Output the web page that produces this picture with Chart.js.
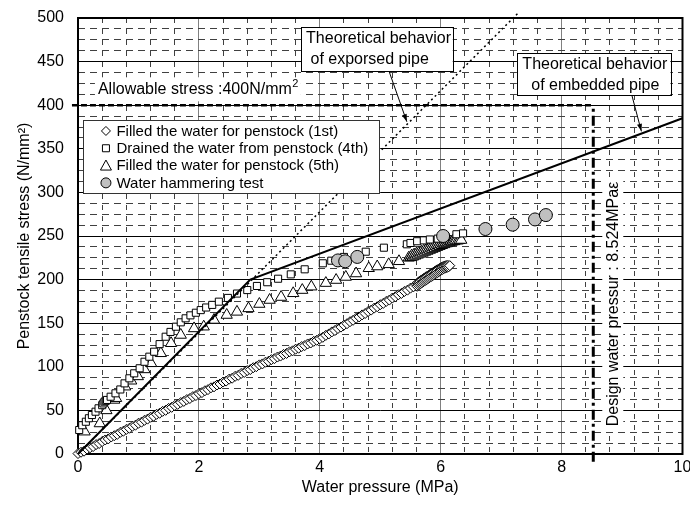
<!DOCTYPE html>
<html>
<head>
<meta charset="utf-8">
<script src="https://cdn.jsdelivr.net/npm/chart.js@4.4.1/dist/chart.umd.min.js"></script>
<style>
  html, body { margin: 0; padding: 0; background: #fff; }
</style>
</head>
<body>
<canvas id="stressChart" width="690" height="509"></canvas>
<script>
const FONT = '"Liberation Sans", Arial, sans-serif';

// Filled the water for penstock (1st) - diamonds
const fill1stX = [0, 0.05, 0.1, 0.15, 0.2, 0.25, 0.3, 0.35, 0.4, 0.45, 0.5, 0.55, 0.6, 0.65, 0.7, 0.75, 0.8, 0.85, 0.9, 0.95,
  1, 1.05, 1.1, 1.15, 1.2, 1.25, 1.3, 1.35, 1.4, 1.45, 1.5, 1.55, 1.6, 1.65, 1.7, 1.75, 1.8, 1.85, 1.9, 1.95,
  2, 2.05, 2.1, 2.15, 2.2, 2.25, 2.3, 2.35, 2.4, 2.45, 2.5, 2.55, 2.6, 2.65, 2.7, 2.75, 2.8, 2.85, 2.9, 2.95,
  3, 3.05, 3.1, 3.15, 3.2, 3.25, 3.3, 3.35, 3.4, 3.45, 3.5, 3.55, 3.6, 3.65, 3.7, 3.75, 3.8, 3.85, 3.9, 3.95,
  4, 4.05, 4.1, 4.15, 4.2, 4.25, 4.3, 4.35, 4.4, 4.45, 4.5, 4.55, 4.6, 4.65, 4.7, 4.75, 4.8, 4.85, 4.9, 4.95,
  5, 5.05, 5.1, 5.15, 5.2, 5.25, 5.3, 5.35, 5.4, 5.45, 5.5, 5.55,
  5.6, 5.61, 5.62, 5.63, 5.64, 5.65, 5.66, 5.67, 5.68, 5.69, 5.7, 5.71, 5.72, 5.73, 5.74, 5.75, 5.76, 5.77, 5.78, 5.79,
  5.8, 5.81, 5.82, 5.83, 5.84, 5.85, 5.86, 5.87, 5.88, 5.89, 5.9, 5.91, 5.92, 5.93, 5.94, 5.95, 5.96, 5.97, 5.98, 5.99,
  6, 6.01, 6.02, 6.03, 6.04, 6.05, 6.06, 6.07, 6.08, 6.09, 6.1, 6.11, 6.12, 6.13, 6.15];
const fill1stStress = [0.5, 2, 3.2, 5.6, 7.1, 8.5, 10.8, 12, 14.2, 16.1, 17.3, 19.5, 21, 22.5, 24.8, 26.1, 28.2, 29.5, 31.8, 33,
  35.2, 36.5, 38.6, 40, 42.1, 43.3, 45.5, 46.7, 48.9, 50.1, 52.3, 53.5, 55.6, 56.9, 59, 60.3, 62.4, 63.6, 65.8, 67,
  69.2, 70.4, 72.5, 73.8, 75.9, 77, 79.1, 80.3, 82.5, 83.6, 85.8, 86.9, 89.1, 90.2, 92.4, 93.5, 95.7, 96.8, 99, 100.1,
  102.2, 103.3, 105.2, 106.3, 108.2, 109.3, 111.2, 112.3, 114.2, 115.3, 117.2, 118.3, 120.2, 121.3, 123.2, 124.3, 126.2, 127.3, 129.2, 130.4,
  132.2, 133.8, 136.1, 137.7, 140, 141.6, 143.9, 145.5, 147.8, 149.4, 151.7, 153.3, 155.6, 157.2, 159.5, 161.1, 163.4, 165, 167.3, 168.9,
  171.2, 172.7, 175, 176.5, 178.8, 180.3, 182.6, 184.1, 186.4, 187.9, 190.2, 191.7,
  194, 192.3, 196.4, 193.6, 197.5, 194.7, 198.3, 195.5, 199.6, 196.4, 200.3, 197.4, 201.4, 198.3, 202.1, 199.3, 203.2, 200.1, 204, 201.1,
  204.9, 202, 205.8, 202.9, 206.7, 203.8, 207.6, 204.7, 208.5, 205.5, 209.4, 206.5, 210.2, 207.4, 211.1, 208.2, 211.9, 209.2, 212.8, 210,
  213.5, 210.9, 214.3, 211.7, 214.9, 212.5, 215.5, 213.1, 215.9, 213.7, 216.1, 214.1, 216.3, 214.6, 216];

// Drained the water from penstock (4th) - squares
const drain4thX = [0.02, 0.07, 0.13, 0.18, 0.23, 0.29, 0.34, 0.4, 0.42, 0.44, 0.46, 0.48, 0.54, 0.62, 0.7, 0.77, 0.85, 0.93, 1.02, 1.1,
  1.18, 1.26, 1.35, 1.45, 1.53, 1.62, 1.7, 1.78, 1.86, 1.95, 2.03, 2.12, 2.22, 2.33, 2.48, 2.63, 2.8, 2.96, 3.13, 3.31,
  3.52, 3.75, 4.05, 4.19, 4.4, 4.76, 5.06, 5.44, 5.5, 5.61, 5.72, 5.82, 5.95, 6.08, 6.26, 6.37];
const drain4thStress = [27.5, 33, 37, 41, 44.7, 48.5, 52.4, 56, 58, 60, 61, 62, 65.7, 69.6, 74, 81, 86.8, 92.5, 98.3, 105.8,
  111.6, 117.3, 126, 134.5, 140, 146, 151, 155.6, 159, 162, 165, 168, 171, 174.7, 179, 184, 188, 192.7, 197, 201,
  206, 211.8, 218.7, 221.7, 226, 232, 236.6, 240.5, 242, 244, 245, 246, 247, 249, 252, 253];

// Filled the water for penstock (5th) - triangles
const fill5thX = [0.11, 0.36, 0.47, 0.6, 0.63, 0.78, 0.88, 0.99, 1.1, 1.21, 1.37, 1.54, 1.7, 1.92, 2.08, 2.25, 2.46, 2.63, 2.82, 3,
  3.17, 3.36, 3.56, 3.71, 3.86, 4.1, 4.27, 4.43, 4.6, 4.81, 4.95, 5.14, 5.31, 5.47,
  5.5, 5.52, 5.54, 5.56, 5.58, 5.6, 5.62, 5.64, 5.66, 5.68, 5.7, 5.72, 5.74, 5.76, 5.78, 5.8, 5.82, 5.84, 5.86, 5.88,
  5.9, 5.92, 5.94, 5.96, 5.98, 6, 6.02, 6.04, 6.06, 6.08, 6.1, 6.12, 6.14, 6.16, 6.18, 6.2, 6.22, 6.25, 6.28, 6.31, 6.34];
const fill5thStress = [25.6, 35, 50, 62, 64, 77.2, 84, 89, 97, 104, 115.5, 127, 136.5, 144, 146, 153.7, 159.4, 163, 167, 172,
  176.6, 180, 184.3, 188, 191.9, 196, 199.5, 203, 207, 213, 215, 217.5, 221, 225,
  225.5, 227.5, 226.2, 228.6, 227.3, 229.7, 228.4, 230.8, 229.5, 231.9, 230.6, 233, 231.7, 234.1, 232.8, 235.2, 233.9, 236.3, 235, 237.4,
  236.1, 238.4, 237.2, 239.4, 238.3, 240.4, 239.4, 241.3, 240.4, 242.2, 241.4, 243, 242.3, 243.7, 243.1, 244.3, 243.8, 244.8, 244.6, 245.2, 245.4];

// Water hammering test - grey circles
const hammerX = [4.3, 4.42, 4.62, 6.04, 6.74, 7.19, 7.56, 7.74];
const hammerStress = [222, 221, 226, 250, 258, 263, 269, 274];

// theoretical lines
const exposedX = [0, 7.3];
const exposedStress = [0, 507];
const embeddedX = [0, 2.85, 10];
const embeddedStress = [0, 200, 385];

const allowableStress = 400;
const designPressure = 8.524;

const xTicks = [0, 2, 4, 6, 8, 10];
const yTicks = [0, 50, 100, 150, 200, 250, 300, 350, 400, 450, 500];

const pts = (xs, ys) => xs.map((x, i) => ({ x: x, y: ys[i] }));
const isStep = (v, step) => Math.abs(v / step - Math.round(v / step)) < 1e-6;

const markerSets = [
  { label: 'Filled the water for penstock (1st)', data: pts(fill1stX, fill1stStress), pointStyle: 'rectRot', pointRadius: 5, pointBackgroundColor: '#fff', order: 8 },
  { label: 'Drained the water from penstock (4th)', data: pts(drain4thX, drain4thStress), pointStyle: 'rect', pointRadius: 5, pointBackgroundColor: '#fff', order: 6 },
  { label: 'Filled the water for penstock (5th)', data: pts(fill5thX, fill5thStress), pointStyle: 'triangle', pointRadius: 6.5, pointBackgroundColor: '#fff', order: 7 },
  { label: 'Water hammering test', data: pts(hammerX, hammerStress), pointStyle: 'circle', pointRadius: 6.5, pointBackgroundColor: '#c0c0c0', order: 1 }
];
markerSets.forEach(d => {
  d.showLine = false;
  d.pointBorderColor = '#000';
  d.pointBorderWidth = 1;
  d.clip = false;
});

const lineSets = [
  { data: pts(embeddedX, embeddedStress), borderWidth: 2, order: 2 },
  { data: pts(exposedX, exposedStress), borderWidth: 1.5, borderDash: [2, 3], order: 3 },
  { data: [{ x: -0.1, y: allowableStress }, { x: designPressure, y: allowableStress }], borderWidth: 2.5, borderDash: [6, 3], order: 4 },
  { data: [{ x: designPressure, y: -9 }, { x: designPressure, y: allowableStress }], borderWidth: 3, borderDash: [10, 4, 3, 4], order: 5 }
];
lineSets.forEach(d => {
  d.showLine = true;
  d.pointRadius = 0;
  d.borderColor = '#000';
  d.clip = false;
});

function arrow(ctx, x1, y1, x2, y2) {
  const a = Math.atan2(y2 - y1, x2 - x1);
  ctx.beginPath();
  ctx.moveTo(x1, y1);
  ctx.lineTo(x2, y2);
  ctx.stroke();
  ctx.beginPath();
  ctx.moveTo(x2, y2);
  ctx.lineTo(x2 - 8 * Math.cos(a - 0.32), y2 - 8 * Math.sin(a - 0.32));
  ctx.lineTo(x2 - 8 * Math.cos(a + 0.32), y2 - 8 * Math.sin(a + 0.32));
  ctx.closePath();
  ctx.fill();
}

function textBox(ctx, x, y, x0, y0, x1, y1, lines) {
  const l = x.getPixelForValue(x0), r = x.getPixelForValue(x1);
  const t = y.getPixelForValue(y0), b = y.getPixelForValue(y1);
  ctx.fillStyle = '#fff';
  ctx.fillRect(l, t, r - l, b - t);
  ctx.strokeStyle = '#000';
  ctx.lineWidth = 1;
  ctx.strokeRect(Math.round(l) + 0.5, Math.round(t) + 0.5, Math.round(r - l), Math.round(b - t));
  ctx.fillStyle = '#000';
  ctx.font = '16px ' + FONT;
  ctx.textBaseline = 'middle';
  ctx.textAlign = 'left';
  lines.forEach(ln => ctx.fillText(ln.text, l + ln.dx, t + ln.dy));
}

function legendMarker(ctx, style, cx, cy) {
  ctx.lineWidth = 1;
  ctx.strokeStyle = '#000';
  ctx.fillStyle = style === 'circle' ? '#c0c0c0' : '#fff';
  ctx.beginPath();
  if (style === 'rectRot') {
    ctx.moveTo(cx, cy - 4.5); ctx.lineTo(cx + 4.5, cy); ctx.lineTo(cx, cy + 4.5); ctx.lineTo(cx - 4.5, cy);
  } else if (style === 'rect') {
    ctx.rect(cx - 3.5, cy - 3.5, 7, 7);
  } else if (style === 'triangle') {
    ctx.moveTo(cx, cy - 5.5); ctx.lineTo(cx + 5.5, cy + 4.5); ctx.lineTo(cx - 5.5, cy + 4.5);
  } else {
    ctx.arc(cx, cy, 5, 0, Math.PI * 2);
  }
  ctx.closePath();
  ctx.fill();
  ctx.stroke();
}

const overlay = {
  id: 'overlay',
  beforeDatasetsDraw(chart) {
    const { ctx, chartArea: a } = chart;
    ctx.save();
    ctx.strokeStyle = '#000';
    ctx.lineWidth = 2;
    ctx.strokeRect(a.left, a.top, a.right - a.left, a.bottom - a.top);
    ctx.restore();
  },
  afterDatasetsDraw(chart) {
    const { ctx, scales: { x, y } } = chart;
    ctx.save();

    // allowable stress label
    ctx.fillStyle = '#fff';
    ctx.fillRect(x.getPixelForValue(0.28), y.getPixelForValue(432), 206, 24);
    ctx.fillStyle = '#000';
    ctx.font = '16px ' + FONT;
    ctx.textBaseline = 'middle';
    ctx.textAlign = 'left';
    const ax = x.getPixelForValue(0.33), ay = y.getPixelForValue(418);
    const label = 'Allowable stress :400N/mm';
    ctx.fillText(label, ax, ay);
    const w = ctx.measureText(label).width;
    ctx.font = '11px ' + FONT;
    ctx.fillText('2', ax + w + 0.5, ay - 6);

    // design pressure label
    const dx = x.getPixelForValue(designPressure) + 19, dy = y.getPixelForValue(172);
    ctx.font = '16px ' + FONT;
    const dText = 'Design water pressur : 8.524MPa\u03b5';
    const dw = ctx.measureText(dText).width;
    ctx.fillStyle = '#fff';
    ctx.fillRect(dx - 10, dy - dw / 2 - 4, 21, dw + 8);
    ctx.translate(dx, dy);
    ctx.rotate(-Math.PI / 2);
    ctx.fillStyle = '#000';
    ctx.textAlign = 'center';
    ctx.fillText(dText, 0, 1);
    ctx.setTransform(1, 0, 0, 1, 0, 0);

    // arrows and boxes
    ctx.strokeStyle = '#000';
    ctx.fillStyle = '#000';
    ctx.lineWidth = 1;
    arrow(ctx, x.getPixelForValue(5.14), y.getPixelForValue(440), x.getPixelForValue(5.44), y.getPixelForValue(381));
    arrow(ctx, x.getPixelForValue(9.16), y.getPixelForValue(412), x.getPixelForValue(9.32), y.getPixelForValue(370));
    textBox(ctx, x, y, 3.69, 489.7, 6.2, 439.2, [
      { text: 'Theoretical behavior', dx: 5, dy: 11.5 },
      { text: ' of exporsed pipe', dx: 5, dy: 33 }
    ]);
    textBox(ctx, x, y, 7.26, 459.5, 9.8, 411.7, [
      { text: 'Theoretical behavior', dx: 5.5, dy: 11 },
      { text: '  of embedded pipe', dx: 5.5, dy: 32 }
    ]);

    // legend
    const lx0 = x.getPixelForValue(0.09), lx1 = x.getPixelForValue(4.99);
    const ly0 = y.getPixelForValue(382.5), ly1 = y.getPixelForValue(298.5);
    ctx.fillStyle = '#fff';
    ctx.fillRect(lx0, ly0, lx1 - lx0, ly1 - ly0);
    ctx.strokeStyle = '#333';
    ctx.strokeRect(Math.round(lx0) + 0.5, Math.round(ly0) + 0.5, Math.round(lx1 - lx0), Math.round(ly1 - ly0));
    markerSets.forEach((d, i) => {
      const cy = ly0 + 10.5 + i * 17.3;
      legendMarker(ctx, d.pointStyle, lx0 + 22.5, cy);
      ctx.fillStyle = '#000';
      ctx.font = '15px ' + FONT;
      ctx.textBaseline = 'middle';
      ctx.textAlign = 'left';
      ctx.fillText(d.label, lx0 + 33, cy + 0.5);
    });
    ctx.restore();
  }
};

const noPadX = s => { s.paddingLeft = 0; s.paddingRight = 0; };
const noPadY = s => { s.paddingTop = 0; s.paddingBottom = 0; };

new Chart(document.getElementById('stressChart'), {
  type: 'scatter',
  data: { datasets: markerSets.concat(lineSets) },
  options: {
    responsive: false,
    animation: false,
    devicePixelRatio: 1,
    layout: { padding: { top: 18, right: 2, bottom: 0, left: 0 } },
    plugins: { legend: { display: false }, tooltip: { enabled: false } },
    scales: {
      x: {
        type: 'linear', position: 'bottom', min: 0, max: 10,
        afterBuildTicks: s => { s.ticks = xTicks.map(v => ({ value: v })); },
        ticks: { font: { family: FONT, size: 16 }, color: '#000', padding: 4, maxRotation: 0, autoSkip: false },
        grid: { color: c => (c.tick && (c.tick.value === 0 || c.tick.value === 10)) ? 'rgba(0,0,0,0)' : '#808080', drawTicks: false },
        border: { display: false },
        title: { display: true, text: 'Water pressure (MPa)', font: { family: FONT, size: 16 }, color: '#000', padding: { top: 0, bottom: 12 } },
        afterFit: s => { s.height = 55; noPadX(s); }
      },
      xMinor: {
        type: 'linear', position: 'bottom', min: 0, max: 10,
        ticks: { display: false, stepSize: 0.4, maxTicksLimit: 100 },
        grid: { color: c => (c.tick && isStep(c.tick.value, 2)) ? 'rgba(0,0,0,0)' : '#404040', drawTicks: false },
        border: { display: false, dash: [5, 6] },
        afterFit: s => { s.height = 0; noPadX(s); }
      },
      y: {
        type: 'linear', position: 'left', min: 0, max: 500,
        afterBuildTicks: s => { s.ticks = yTicks.map(v => ({ value: v })); },
        ticks: { font: { family: FONT, size: 16 }, color: '#000', padding: 14, autoSkip: false },
        grid: { color: c => (c.tick && (c.tick.value === 0 || c.tick.value === 500)) ? 'rgba(0,0,0,0)' : '#000', drawTicks: false },
        border: { display: false },
        title: { display: true, text: 'Penstock tensile stress (N/mm\u00b2)', font: { family: FONT, size: 16 }, color: '#000', padding: { top: 15, bottom: 0 } },
        afterFit: s => { s.width = 78; noPadY(s); }
      },
      yMinor: {
        type: 'linear', position: 'left', min: 0, max: 500,
        ticks: { display: false, stepSize: 12.5, maxTicksLimit: 100 },
        grid: { color: c => (c.tick && isStep(c.tick.value, 50)) ? 'rgba(0,0,0,0)' : '#404040', drawTicks: false },
        border: { display: false, dash: [7, 5] },
        afterFit: s => { s.width = 0; noPadY(s); }
      }
    }
  },
  plugins: [overlay]
});
</script>
</body>
</html>
